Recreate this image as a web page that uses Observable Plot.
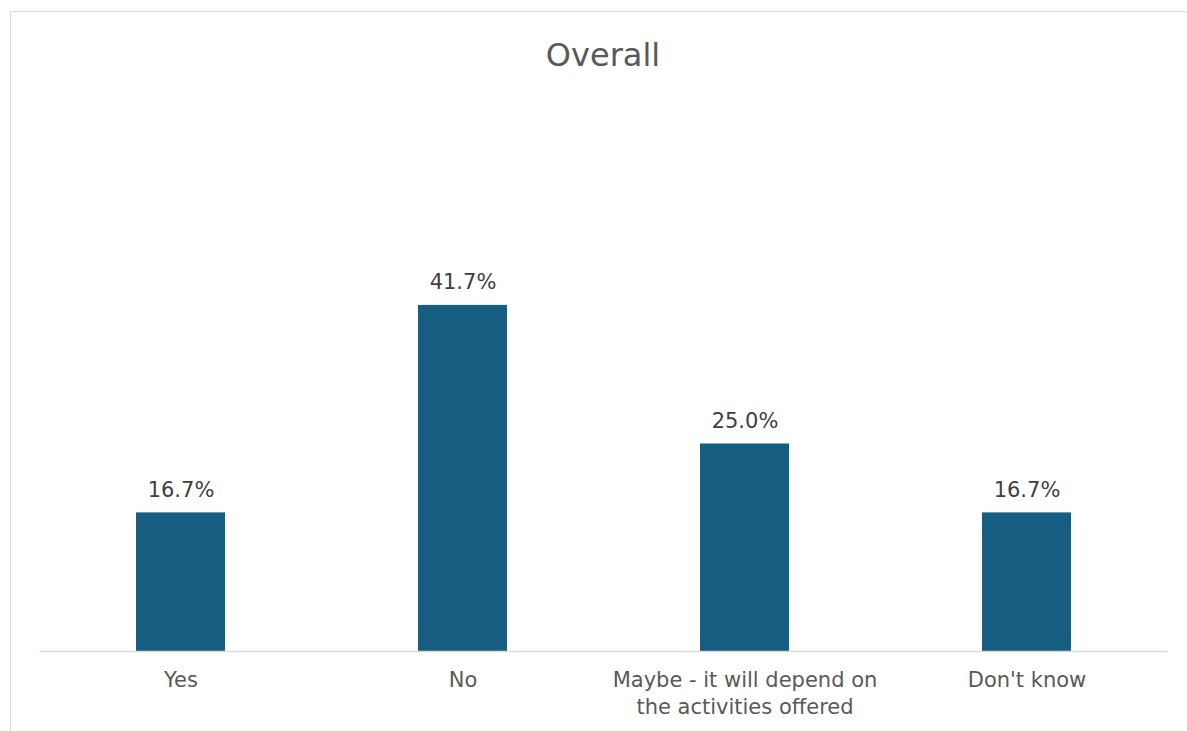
<!DOCTYPE html>
<html>
<head>
<meta charset="utf-8">
<script src="https://cdn.jsdelivr.net/npm/d3@7"></script>
<script src="https://cdn.jsdelivr.net/npm/@observablehq/plot@0.6"></script>
<style>
  html, body { margin: 0; padding: 0; background: #fff; }
  body { width: 1187px; height: 731px; overflow: hidden; position: relative; font-family: "DejaVu Sans", sans-serif; }
  #frame { position: absolute; left: 10px; top: 11px; width: 1175px; height: 800px; border-top: 1.5px solid #d9d9d9; border-left: 1.5px solid #d9d9d9; }
  #title { position: relative; height: 90px; }
  #title span { position: absolute; top: 39px; left: 0; width: 1187px; padding-left: 19px; box-sizing: border-box; text-align: center; font-size: 32px; line-height: 32px; color: #595959; }
  #chart { position: relative; }
</style>
</head>
<body>
<div id="frame"></div>
<div id="title"><span>Overall</span></div>
<div id="chart"></div>
<script>
const categories = ["Yes", "No", "Maybe - it will depend on the activities offered", "Don't know"];
const tickLabels = ["Yes", "No", "Maybe - it will depend on\nthe activities offered", "Don't know"];
const values = [16.7, 41.7, 25.0, 16.7];

const data = categories.map((c, i) => ({category: c, label: tickLabels[i], value: values[i]}));

const chart = Plot.plot({
  width: 1187,
  height: 641,
  marginTop: 146,
  marginBottom: 80,
  marginLeft: 39.5,
  marginRight: 19.5,
  style: {fontFamily: "DejaVu Sans, sans-serif", background: "transparent"},
  x: {domain: categories, paddingInner: 0.684, paddingOuter: 0.342, axis: null},
  y: {domain: [0, 50], axis: null},
  marks: [
    Plot.barY(data, {x: "category", y: "value", fill: "#165e81"}),
    Plot.ruleY([0], {stroke: "#d9d9d9", strokeWidth: 1.5}),
    Plot.text(data, {x: "category", y: "value", text: d => d.value.toFixed(1) + "%", dy: -16, lineAnchor: "bottom", fontSize: 21, fill: "#404040"}),
    Plot.text(data, {x: "category", y: () => 0, text: "label", dy: 16, lineAnchor: "top", lineHeight: 1.3, fontSize: 21, fill: "#595959"})
  ]
});
document.getElementById("chart").appendChild(chart);
</script>
</body>
</html>
